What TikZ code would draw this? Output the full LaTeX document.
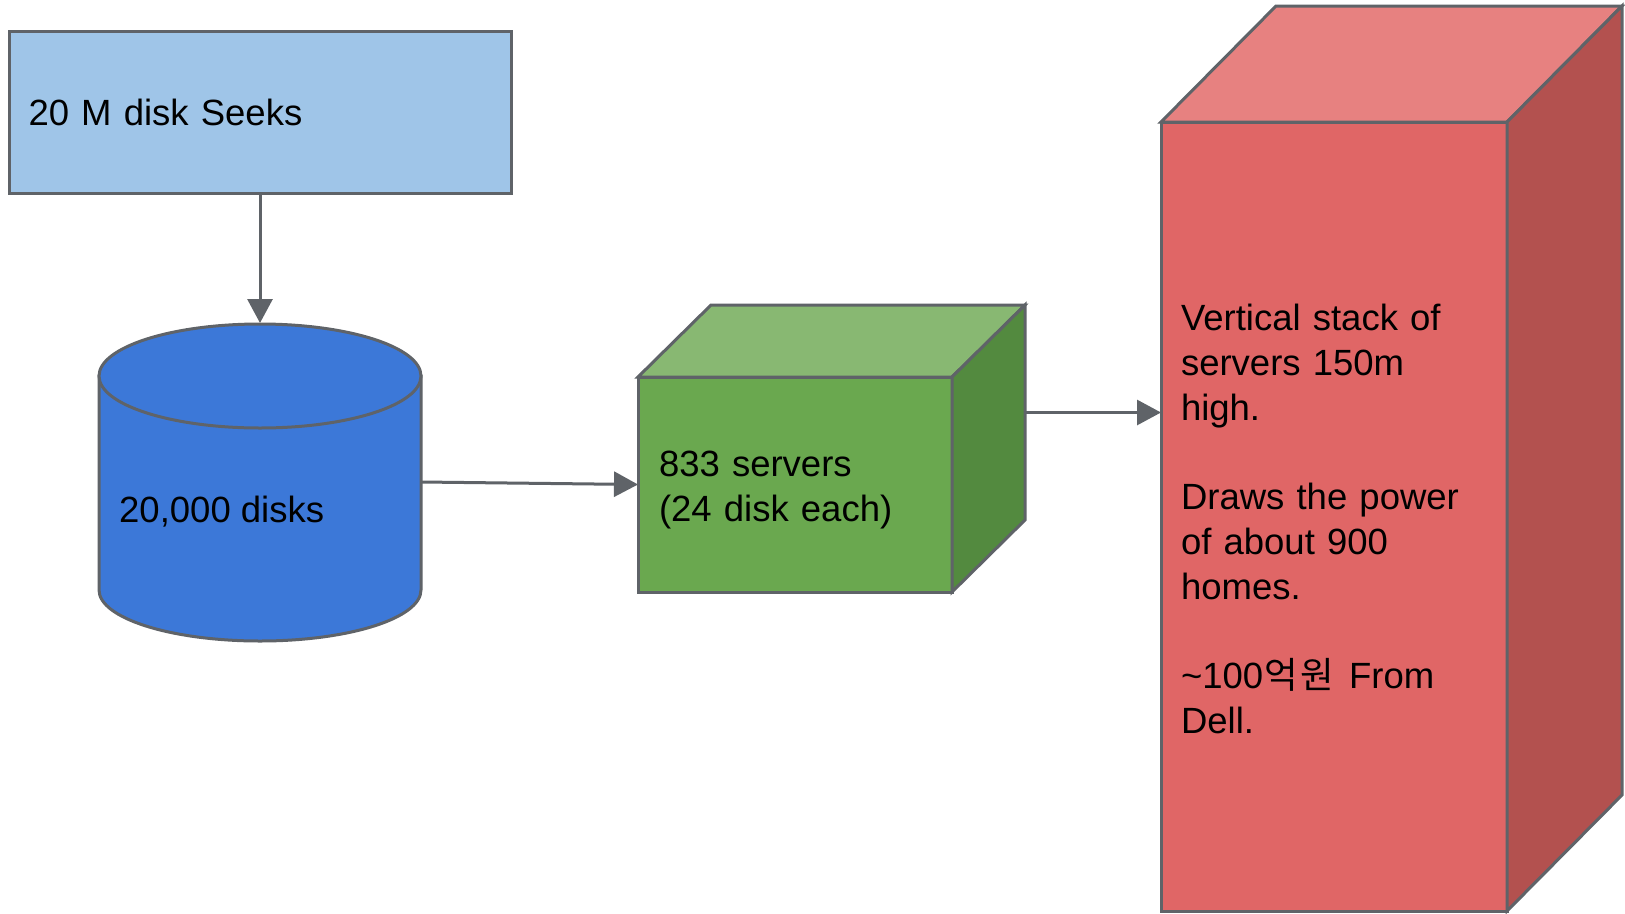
\documentclass[tikz,border=0pt]{standalone}
\usepackage{fontspec}
\setmainfont{Liberation Sans}
\newfontfamily\krfont{Noto Sans CJK KR}
\usetikzlibrary{arrows.meta,calc}

\definecolor{edgegray}{HTML}{5F6368}
\definecolor{seekblue}{HTML}{9FC5E8}
\definecolor{diskblue}{HTML}{3C78D8}
\definecolor{srvfront}{HTML}{6AA84F}
\definecolor{srvtop}{HTML}{88B872}
\definecolor{srvside}{HTML}{538A3F}
\definecolor{stackfront}{HTML}{E06666}
\definecolor{stacktop}{HTML}{E78180}
\definecolor{stackside}{HTML}{B3514F}

\newcommand\labelfont{\fontsize{36.5}{44.8}\selectfont}

\tikzset{
  outline/.style={draw=edgegray, line width=3pt, line join=miter},
  facebox/.style={outline, rectangle, inner ysep=0pt, outer sep=0pt,
    align=left, font=\labelfont},
  link/.style={draw=edgegray, line width=3pt,
    -{Triangle[length=24pt,width=25pt]}},
  plainlabel/.style={inner sep=0pt, font=\labelfont},
}

\begin{document}
\begin{tikzpicture}[x=1pt,y=-1pt]
  \useasboundingbox (0,0) rectangle (1625,913);
  \fill[white] (0,0) rectangle (1625,913);

  % request box
  \node[facebox, fill=seekblue, minimum width=502pt, minimum height=162pt,
        inner xsep=19.5pt, text width=463pt] (seeks) at (260,112) {20 M disk Seeks};

  % disk cylinder
  \node[inner sep=0pt, outer sep=0pt, minimum width=322pt, minimum height=318pt]
        (disks) at (260,482) {};
  \filldraw[outline, fill=diskblue] (99,376) -- (99,590)
    arc[start angle=180, end angle=0, x radius=161, y radius=51] -- (421,376) -- cycle;
  \filldraw[outline, fill=diskblue] (260,376) ellipse[x radius=161, y radius=52];
  \node[plainlabel, anchor=base west] (diskslabel) at (119,522) {20,000 disks};

  % server cube
  \node[facebox, fill=srvfront, minimum width=314pt, minimum height=215pt,
        inner xsep=21pt, text width=272pt] (servers) at (795,484.5)
        {\rule{0pt}{36pt}833 servers\\(24 disk each)};
  \filldraw[outline, fill=srvtop] (servers.north west) -- ++(73,-72) -- ++(314,0)
    -- (servers.north east) -- cycle;
  \filldraw[outline, fill=srvside] (servers.north east) -- ++(73,-72) -- ++(0,215)
    -- (servers.south east) -- cycle;
  \coordinate (serversback) at ($(servers.east)+(73,-72)$);

  % server stack
  \node[facebox, fill=stackfront, minimum width=346pt, minimum height=789pt,
        inner xsep=20pt, text width=306pt] (stack) at (1334,516.5)
        {\rule{0pt}{31.6pt}Vertical stack of\\servers 150m\\high.\\[44.8pt]Draws the power\\of about 900\\homes.\\[44.8pt]\char`\~100\kern1pt{\krfont 억\kern3pt 원}\kern2.5pt{} From\\Dell.};
  \filldraw[outline, fill=stacktop] (stack.north west) -- ++(115,-116) -- ++(346,0)
    -- (stack.north east) -- cycle;
  \filldraw[outline, fill=stackside] (stack.north east) -- ++(115,-116) -- ++(0,789)
    -- (stack.south east) -- cycle;

  % connectors
  \draw[link] (seeks.south -| disks.north) -- (disks.north);
  \draw[link] (disks.east) -- (servers.west);
  \draw[link] (serversback) -- (serversback -| stack.west);
\end{tikzpicture}
\end{document}
